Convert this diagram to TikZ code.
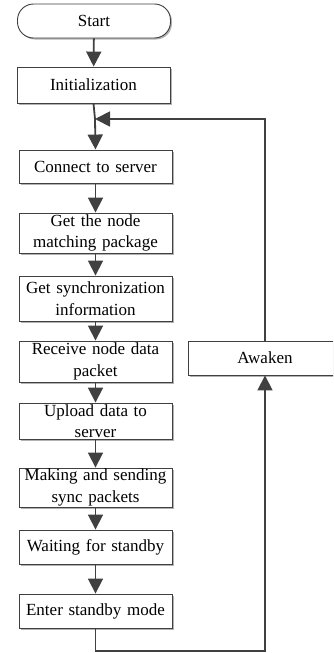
\documentclass[tikz,border=0pt]{standalone}
\usepackage{fontspec}
\setmainfont{Liberation Serif}
\usetikzlibrary{arrows.meta,shadows}
\definecolor{ln}{HTML}{404040}
\tikzset{
  box/.style={draw=ln, line width=0.9pt, fill=white, minimum width=153pt, inner sep=0pt, align=center,
    text width=150pt, font=\fontsize{17pt}{21.5pt}\selectfont,
    drop shadow={shadow xshift=1.5pt, shadow yshift=-1.5pt, fill=black!30, opacity=1}},
  flow/.style={draw=ln, line width=1.8pt, -{Triangle[length=15pt,width=15pt]}},
  loopline/.style={draw=ln, line width=1.8pt}
}
\begin{document}
\begin{tikzpicture}[x=1pt,y=1pt]
\useasboundingbox (0,0) rectangle (333,-653);
\clip (0,0) rectangle (333,-653);
\node[box, rounded corners=16pt, minimum height=34pt] (start) at (94,-21) {Start};
\node[box, minimum height=36pt] (init) at (93.5,-85) {Initialization};
\node[box, minimum height=33pt] (conn) at (95.5,-166.5) {Connect to server};
\node[box, minimum height=40pt] (getnode) at (95.5,-233) {Get the node\\matching package};
\node[box, minimum height=45pt] (getsync) at (95.5,-298.5) {Get synchronization\\information};
\node[box, minimum height=41pt] (recv) at (95.5,-361.5) {Receive node data\\packet};
\node[box, minimum height=36pt] (upload) at (95.5,-421) {Upload data to\\server};
\node[box, minimum height=39pt] (making) at (95.5,-487.5) {Making and sending\\sync packets};
\node[box, minimum height=34pt] (wait) at (95.5,-547) {Waiting for standby};
\node[box, minimum height=34pt] (enter) at (95.5,-611) {Enter standby mode};
\node[box, minimum height=34pt, minimum width=200pt, text width=200pt] (awaken) at (288,-358) {\hspace*{-46pt}Awaken};
\coordinate (acol) at (265,-358);
\coordinate (join) at (95,-119);
\coordinate (bottom) at (95.5,-651);
\draw[flow] (start) -- (init);
\draw[loopline] (init.south) -- (join);
\draw[flow] (join) -- (conn.north);
\draw[flow] (conn) -- (getnode);
\draw[flow] (getnode) -- (getsync);
\draw[flow] (getsync) -- (recv);
\draw[flow] (recv) -- (upload);
\draw[flow] (upload) -- (making);
\draw[flow] (making) -- (wait);
\draw[flow] (wait) -- (enter);
\draw[flow] (enter.south) -- (bottom) -| (acol |- awaken.south);
\draw[flow] (acol |- awaken.north) |- (join);
\end{tikzpicture}
\end{document}
